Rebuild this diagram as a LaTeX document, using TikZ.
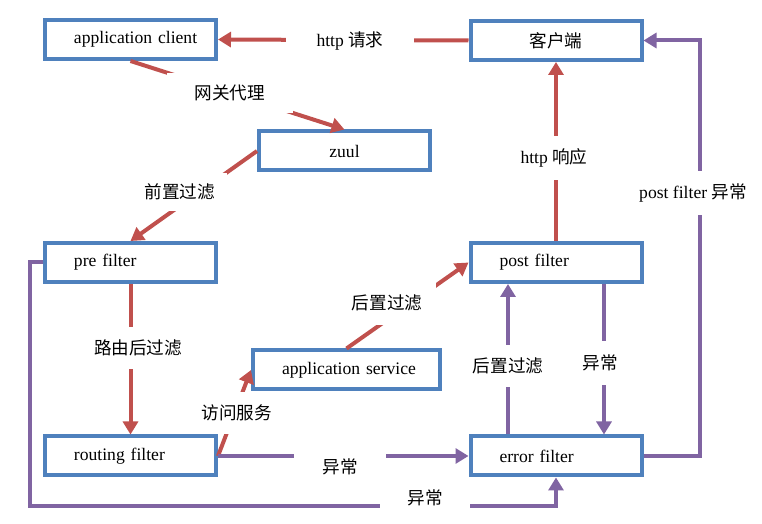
\documentclass[tikz,border=0pt]{standalone}
\usepackage{fontspec}
\setmainfont{Liberation Serif}
\newfontfamily\cjk{Noto Sans CJK SC}
\usetikzlibrary{arrows.meta}
\definecolor{boxblue}{RGB}{79,129,189}
\definecolor{flowred}{RGB}{192,80,77}
\definecolor{errpurple}{RGB}{128,100,162}
\tikzset{
	box/.style={draw=boxblue, line width=2pt, minimum height=19.5pt, text width=56.5pt, align=left, inner xsep=14.5pt, inner ysep=0pt},
	cbox/.style={box, align=center},
	redline/.style={flowred, line width=2pt, ->},
	purpleline/.style={errpurple, line width=2pt, ->},
	lbl/.style={fill=white, inner xsep=3pt, inner ysep=6.5pt},
}
\begin{document}
\begin{tikzpicture}[x=.5pt, y=-.5pt, font=\fontsize{8.8}{10}\selectfont, >={Triangle[length=6.5pt,width=7.5pt]}]
	\useasboundingbox (0,0) rectangle (762,524);
	% boxes
	\node[box] (appclient) at (130.5,39.5) {\mbox{application client}};
	\node[cbox] (client) at (556,40.5) {\cjk 客户端};
	\node[cbox] (zuul) at (344.5,151) {zuul};
	\node[box] (pre) at (130.5,262.5) {pre filter};
	\node[box] (post) at (556,262.5) {post filter};
	\node[box, text width=64.5pt] (appservice) at (346.5,370) {\mbox{application service}};
	\node[box] (routing) at (130.5,456) {routing filter};
	\node[box] (error) at (556,456) {error filter};
	% normal flow
	\draw[redline] (client.west) -- (appclient.east);
	\draw[redline] (appclient.south) -- (zuul.north);
	\draw[redline] (zuul.west) -- (pre.north);
	\draw[redline] (pre.south) -- (routing.north);
	\draw[redline] (routing.east) -- (appservice.west);
	\draw[redline] (appservice.north) -- (post.west);
	\draw[redline] (post.north) -- (client.south);
	% errors
	\draw[purpleline] ([xshift=24pt]post.south) -- ([xshift=24pt]error.north);
	\draw[purpleline] ([xshift=-24pt]error.north) -- ([xshift=-24pt]post.south);
	\draw[purpleline] (routing.east) -- (error.west);
	\draw[purpleline] (pre.west) -- ++(-13,0) -- ++(0,243.5) -| (error.south);
	\draw[purpleline] (error.east) -- ++(56,0) |- (client.east);
	% labels
	\node[lbl, inner xsep=15.5pt, inner ysep=3pt] (lhttpreq) at (350,41) {http {\cjk 请求}};
	\node[lbl, inner xsep=14pt, inner ysep=6pt] (lproxy) at (230,93) {\cjk 网关代理};
	\node[lbl, inner xsep=6pt, inner ysep=5.5pt] (lprefilt) at (180,192) {\cjk 前置过滤};
	\node[lbl, inner xsep=4pt] (lroute) at (138,348) {\cjk 路由后过滤};
	\node[lbl] (lvisit) at (237,413) {\cjk 访问服务};
	\node[lbl, inner xsep=7pt, inner ysep=7pt] (lpostfilt) at (387,303) {\cjk 后置过滤};
	\node[lbl] (lhttpres) at (554,158) {http {\cjk 响应}};
	\node[lbl, inner ysep=7pt] (lerrpost) at (600,363) {\cjk 异常};
	\node[lbl] (lerrback) at (508,366) {\cjk 后置过滤};
	\node[lbl, inner xsep=14pt, inner ysep=4pt] (lerrroute) at (340,467) {\cjk 异常};
	\node[lbl, inner xsep=13.5pt, inner ysep=4pt] (lerrpre) at (425,498) {\cjk 异常};
	\node[lbl] (lerrclient) at (693,193) {post filter {\cjk 异常}};
\end{tikzpicture}
\end{document}
